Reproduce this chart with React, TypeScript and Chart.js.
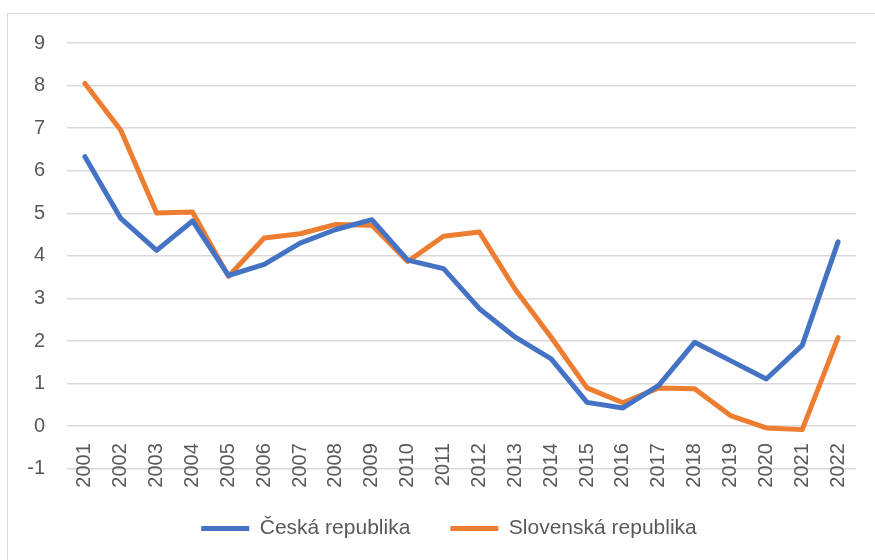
import React, { useEffect, useRef } from 'react';
import { Chart, registerables } from 'chart.js';

Chart.register(...registerables);

const years = ['2001', '2002', '2003', '2004', '2005', '2006', '2007', '2008', '2009', '2010', '2011', '2012', '2013', '2014', '2015', '2016', '2017', '2018', '2019', '2020', '2021', '2022'];
const czValues = [6.33, 4.88, 4.13, 4.82, 3.54, 3.8, 4.3, 4.62, 4.85, 3.9, 3.7, 2.76, 2.09, 1.58, 0.56, 0.43, 0.96, 1.97, 1.54, 1.11, 1.9, 4.33];
const skValues = [8.05, 6.95, 5.01, 5.03, 3.52, 4.42, 4.52, 4.74, 4.72, 3.87, 4.46, 4.56, 3.21, 2.09, 0.9, 0.55, 0.9, 0.88, 0.25, -0.04, -0.08, 2.08];
const seriesNames = ['Česká republika', 'Slovenská republika'];
const seriesColors = ['#4472C4', '#ED7D31'];

const FONT = "'Liberation Sans', Arial, sans-serif";
const TEXT = '#595959';
const GRID = '#d9d9d9';

export default function App() {
  const ref = useRef<HTMLCanvasElement | null>(null);

  useEffect(() => {
    if (!ref.current) return;
    const mk = (i: number, data: number[]) => ({
      label: seriesNames[i],
      data,
      yAxisID: 'y',
      borderColor: seriesColors[i],
      backgroundColor: seriesColors[i],
      borderWidth: 5,
      borderJoinStyle: 'round' as const,
      borderCapStyle: 'round' as const,
      pointRadius: 0,
      pointHoverRadius: 0,
      tension: 0,
      fill: false,
    });
    const chart = new Chart(ref.current, {
      type: 'line',
      data: {
        labels: years,
        datasets: [mk(0, czValues), mk(1, skValues)],
      },
      options: {
        animation: false,
        responsive: false,
        layout: { padding: { left: 0, right: 0, top: 43, bottom: 11 } },
        scales: {
          x: {
            position: { y: 0 } as any,
            offset: true,
            grid: { display: false, drawTicks: false },
            border: { display: false },
            ticks: {
              autoSkip: false,
              minRotation: 90,
              maxRotation: 90,
              padding: 17,
              color: TEXT,
              font: { family: FONT, size: 20 },
            },
          },
          y: {
            position: 'left',
            min: -1,
            max: 9,
            grid: { color: GRID, lineWidth: 1.5, drawTicks: false },
            border: { display: false },
            ticks: {
              stepSize: 1,
              padding: 22,
              color: TEXT,
              font: { family: FONT, size: 20 },
            },
            afterFit: (scale: any) => {
              scale.width = 67;
            },
          },
          yRight: {
            position: 'right',
            display: true,
            grid: { display: false, drawTicks: false },
            border: { display: false },
            ticks: { display: false },
            afterFit: (scale: any) => {
              scale.width = 42;
            },
          },
        },
        plugins: {
          tooltip: { enabled: false },
          legend: {
            position: 'bottom',
            title: { display: true, text: '', padding: { top: 8, bottom: 0 }, font: { size: 1 } },
            labels: {
              usePointStyle: true,
              pointStyle: 'line',
              pointStyleWidth: 48,
              padding: 40,
              color: TEXT,
              font: { family: FONT, size: 21 },
            },
          },
        },
      },
    });
    return () => chart.destroy();
  }, []);

  return (
    <div style={{ position: 'absolute', left: 0, top: 0, width: 875, height: 560, overflow: 'hidden', background: '#fff' }}>
      <div style={{ position: 'absolute', left: 7, top: 13, width: 900, height: 600, border: `1px solid ${GRID}`, boxSizing: 'border-box' }} />
      <canvas ref={ref} width={898} height={560} style={{ position: 'absolute', left: 0, top: 0, width: 898, height: 560 }} />
    </div>
  );
}
